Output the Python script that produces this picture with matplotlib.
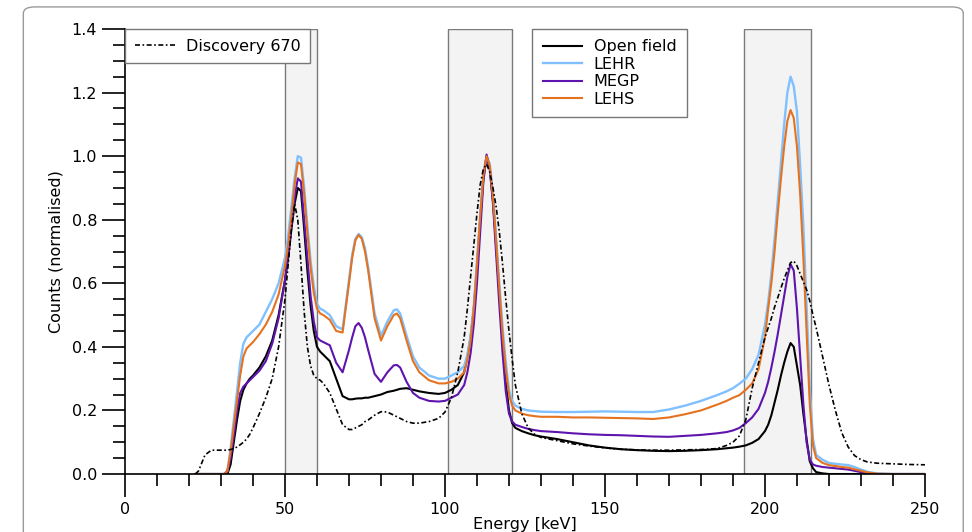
import matplotlib
matplotlib.use("Agg")
import matplotlib.pyplot as plt
from matplotlib.patches import FancyBboxPatch
from matplotlib.ticker import MultipleLocator, FormatStrFormatter

# energy grid (keV) shared by all spectra
energy = [22, 23, 25, 27, 30,
          31, 32, 33, 34, 35, 36, 37, 38, 39, 40,
          42, 44, 46, 48, 50, 51, 52, 53, 54, 55, 56, 57, 58, 59, 60, 61, 62, 64,
          66, 68, 70, 71, 72, 73, 74, 75, 76, 78, 80, 82, 84, 85, 86, 88, 90,
          92, 95, 98, 100, 102, 104, 106, 107, 108, 109, 110, 111, 112, 113, 114,
          115, 116, 117, 118, 119, 120, 121, 122, 124, 126, 128,
          130, 135, 140, 145, 150, 155, 160, 165, 170, 175, 180, 185, 188, 190,
          192, 194, 196, 198, 200,
          201, 202, 203, 204, 205, 206, 207, 208, 209, 210, 211, 212, 213, 214,
          215, 216,
          218, 220, 222, 224, 226, 228, 230, 232, 235, 240, 245, 250]

discovery = [0, 0.01, 0.06, 0.075, 0.075,
             0.075, 0.075, 0.077, 0.08, 0.085, 0.092, 0.10, 0.11, 0.125, 0.145,
             0.19, 0.24, 0.30, 0.40, 0.55, 0.66, 0.77, 0.85, 0.80, 0.66, 0.51, 0.40, 0.34, 0.31, 0.30, 0.295, 0.285, 0.255,
             0.205, 0.155, 0.14, 0.14, 0.145, 0.15, 0.155, 0.165, 0.17, 0.185, 0.196, 0.195, 0.185, 0.18, 0.175, 0.165, 0.16,
             0.16, 0.165, 0.175, 0.195, 0.24, 0.32, 0.43, 0.52, 0.62, 0.72, 0.82, 0.91, 0.96, 0.975, 0.95,
             0.90, 0.84, 0.76, 0.66, 0.55, 0.45, 0.36, 0.28, 0.19, 0.145, 0.125,
             0.115, 0.105, 0.095, 0.088, 0.082, 0.078, 0.076, 0.075, 0.075, 0.076, 0.077, 0.08, 0.09, 0.10,
             0.12, 0.17, 0.27, 0.35, 0.43,
             0.46, 0.49, 0.525, 0.555, 0.585, 0.615, 0.64, 0.665, 0.67, 0.655, 0.63, 0.605, 0.58, 0.545,
             0.50, 0.46,
             0.37, 0.28, 0.20, 0.13, 0.085, 0.058, 0.045, 0.038, 0.034, 0.032, 0.03, 0.029]

open_field = [0, 0, 0, 0, 0,
              0, 0, 0.03, 0.10, 0.17, 0.23, 0.265, 0.285, 0.30, 0.31,
              0.335, 0.37, 0.42, 0.50, 0.61, 0.68, 0.77, 0.85, 0.90, 0.89, 0.77, 0.64, 0.53, 0.45, 0.40, 0.385, 0.375, 0.355,
              0.30, 0.245, 0.235, 0.235, 0.237, 0.238, 0.238, 0.24, 0.24, 0.245, 0.25, 0.258, 0.262, 0.265, 0.268, 0.27, 0.265,
              0.26, 0.255, 0.252, 0.255, 0.265, 0.28, 0.32, 0.37, 0.43, 0.52, 0.65, 0.80, 0.93, 1.0, 0.96,
              0.86, 0.72, 0.57, 0.42, 0.29, 0.20, 0.16, 0.145, 0.135, 0.128, 0.122,
              0.118, 0.11, 0.10, 0.09, 0.083, 0.078, 0.075, 0.073, 0.072, 0.073, 0.075, 0.078, 0.081, 0.083,
              0.086, 0.09, 0.098, 0.11, 0.135,
              0.155, 0.185, 0.225, 0.265, 0.31, 0.35, 0.385, 0.412, 0.40, 0.34, 0.28, 0.19, 0.11, 0.04,
              0.018, 0.006,
              0.002, 0, 0, 0, 0, 0, 0, 0, 0, 0, 0, 0]

lehr = [0, 0, 0, 0, 0,
        0, 0.01, 0.08, 0.17, 0.26, 0.35, 0.41, 0.43, 0.44, 0.45,
        0.47, 0.51, 0.55, 0.60, 0.68, 0.75, 0.84, 0.93, 1.0, 0.995, 0.90, 0.78, 0.67, 0.59, 0.535, 0.52, 0.515, 0.50,
        0.465, 0.455, 0.61, 0.69, 0.74, 0.755, 0.745, 0.71, 0.65, 0.505, 0.435, 0.48, 0.515, 0.518, 0.505, 0.435, 0.37,
        0.335, 0.31, 0.30, 0.30, 0.31, 0.32, 0.34, 0.375, 0.435, 0.53, 0.67, 0.815, 0.945, 1.0, 0.975,
        0.88, 0.74, 0.595, 0.46, 0.35, 0.265, 0.23, 0.215, 0.205, 0.20, 0.198,
        0.196, 0.195, 0.195, 0.196, 0.197, 0.196, 0.195, 0.195, 0.203, 0.215, 0.23, 0.248, 0.26, 0.27,
        0.284, 0.30, 0.33, 0.375, 0.47,
        0.54, 0.63, 0.74, 0.86, 0.98, 1.10, 1.20, 1.25, 1.22, 1.14, 0.97, 0.78, 0.53, 0.27,
        0.11, 0.06,
        0.045, 0.035, 0.032, 0.03, 0.028, 0.022, 0.014, 0.007, 0.002, 0, 0, 0]

megp = [0, 0, 0, 0, 0,
        0, 0.01, 0.05, 0.12, 0.20, 0.255, 0.275, 0.285, 0.295, 0.305,
        0.325, 0.355, 0.41, 0.49, 0.61, 0.69, 0.78, 0.87, 0.93, 0.92, 0.80, 0.68, 0.56, 0.48, 0.43, 0.42, 0.415, 0.405,
        0.35, 0.32, 0.39, 0.43, 0.465, 0.475, 0.46, 0.43, 0.39, 0.315, 0.29, 0.32, 0.342, 0.343, 0.335, 0.29, 0.255,
        0.24, 0.23, 0.228, 0.23, 0.24, 0.25, 0.28, 0.32, 0.38, 0.47, 0.60, 0.76, 0.92, 1.005, 0.96,
        0.85, 0.69, 0.53, 0.38, 0.26, 0.19, 0.165, 0.155, 0.148, 0.142, 0.138,
        0.135, 0.132, 0.128, 0.125, 0.123, 0.122, 0.12, 0.118, 0.117, 0.12, 0.123, 0.128, 0.132, 0.137,
        0.145, 0.16, 0.178, 0.205, 0.255,
        0.29, 0.335, 0.385, 0.44, 0.50, 0.56, 0.62, 0.66, 0.64, 0.52, 0.37, 0.22, 0.10, 0.045,
        0.03, 0.026,
        0.022, 0.02, 0.018, 0.016, 0.014, 0.01, 0.006, 0.003, 0, 0, 0, 0]

lehs = [0, 0, 0, 0, 0,
        0, 0.01, 0.07, 0.15, 0.23, 0.31, 0.37, 0.395, 0.405, 0.415,
        0.44, 0.47, 0.51, 0.565, 0.655, 0.72, 0.81, 0.91, 0.98, 0.975, 0.88, 0.76, 0.65, 0.57, 0.52, 0.505, 0.50, 0.485,
        0.45, 0.445, 0.60, 0.68, 0.735, 0.752, 0.74, 0.70, 0.64, 0.49, 0.42, 0.465, 0.50, 0.505, 0.49, 0.42, 0.355,
        0.32, 0.295, 0.285, 0.285, 0.29, 0.30, 0.32, 0.36, 0.42, 0.52, 0.66, 0.81, 0.94, 1.0, 0.97,
        0.87, 0.73, 0.58, 0.44, 0.33, 0.25, 0.215, 0.20, 0.19, 0.185, 0.182,
        0.18, 0.18, 0.178, 0.178, 0.177, 0.176, 0.175, 0.173, 0.178, 0.188, 0.20, 0.218, 0.23, 0.24,
        0.248, 0.265, 0.285, 0.33, 0.43,
        0.52, 0.60, 0.70, 0.82, 0.93, 1.03, 1.11, 1.145, 1.12, 1.03, 0.88, 0.68, 0.45, 0.22,
        0.09, 0.05,
        0.035, 0.028, 0.025, 0.022, 0.02, 0.015, 0.01, 0.005, 0.001, 0, 0, 0]

# energy windows shaded in the plot
windows = [(50, 60), (101, 121), (193.5, 214.5)]

FS = 11.5

fig = plt.figure(figsize=(9.72, 5.32), dpi=100)
fig.patch.set_facecolor("white")

# rounded frame around the whole figure
frame = FancyBboxPatch((0.024, -0.05), 0.967, 1.037, boxstyle="round,pad=0,rounding_size=0.012",
                       transform=fig.transFigure, facecolor="none", edgecolor="#9a9a9a", lw=1.0)
fig.patches.append(frame)

ax = fig.add_axes([0.1286, 0.109, 0.823, 0.8365])

for lo, hi in windows:
    ax.axvspan(lo, hi, facecolor="#f3f3f3", edgecolor="#7a7a7a", lw=1.0, zorder=0)

l_disc, = ax.plot(energy, discovery, color="black", lw=1.2, ls=(0, (3, 1.5, 1, 1.5)), zorder=3)
l_open, = ax.plot(energy, open_field, color="black", lw=1.5, zorder=2)
l_lehr, = ax.plot(energy, lehr, color="#80c0ff", lw=1.7, zorder=2)
l_megp, = ax.plot(energy, megp, color="#5e14ad", lw=1.5, zorder=2)
l_lehs, = ax.plot(energy, lehs, color="#e5721f", lw=1.5, zorder=2)

ax.set_xlim(0, 250)
ax.set_ylim(0, 1.4)
ax.spines["top"].set_visible(False)
ax.spines["right"].set_visible(False)
ax.spines["left"].set_linewidth(1.2)
ax.spines["bottom"].set_linewidth(1.2)

ax.xaxis.set_major_locator(MultipleLocator(50))
ax.xaxis.set_minor_locator(MultipleLocator(10))
ax.yaxis.set_major_locator(MultipleLocator(0.2))
ax.yaxis.set_minor_locator(MultipleLocator(0.05))
ax.yaxis.set_major_formatter(FormatStrFormatter("%.1f"))
ax.tick_params(which="major", direction="out", length=16.5, width=1.2, labelsize=FS, pad=3.5)
ax.tick_params(which="minor", direction="out", length=8.6, width=1.2)

ax.set_xlabel("Energy [keV]", fontsize=FS, labelpad=0)
ax.set_ylabel("Counts (normalised)", fontsize=FS, labelpad=6)

leg1 = ax.legend([l_disc], ["Discovery 670"], loc="upper left", bbox_to_anchor=(0, 1),
                 borderaxespad=0, fancybox=False, framealpha=1, edgecolor="#777777",
                 fontsize=FS, handlelength=2.5, handletextpad=0.7, borderpad=0.6)
leg1.get_frame().set_linewidth(1.0)
ax.add_artist(leg1)

leg2 = ax.legend([l_open, l_lehr, l_megp, l_lehs], ["Open field", "LEHR", "MEGP", "LEHS"],
                 loc="upper left", bbox_to_anchor=(0.509, 1), borderaxespad=0,
                 fancybox=False, framealpha=1, edgecolor="#777777", fontsize=FS,
                 handlelength=2.5, handletextpad=0.7, labelspacing=0.15, borderpad=0.65)
leg2.get_frame().set_linewidth(1.0)

fig.savefig("out.png", dpi=100)
